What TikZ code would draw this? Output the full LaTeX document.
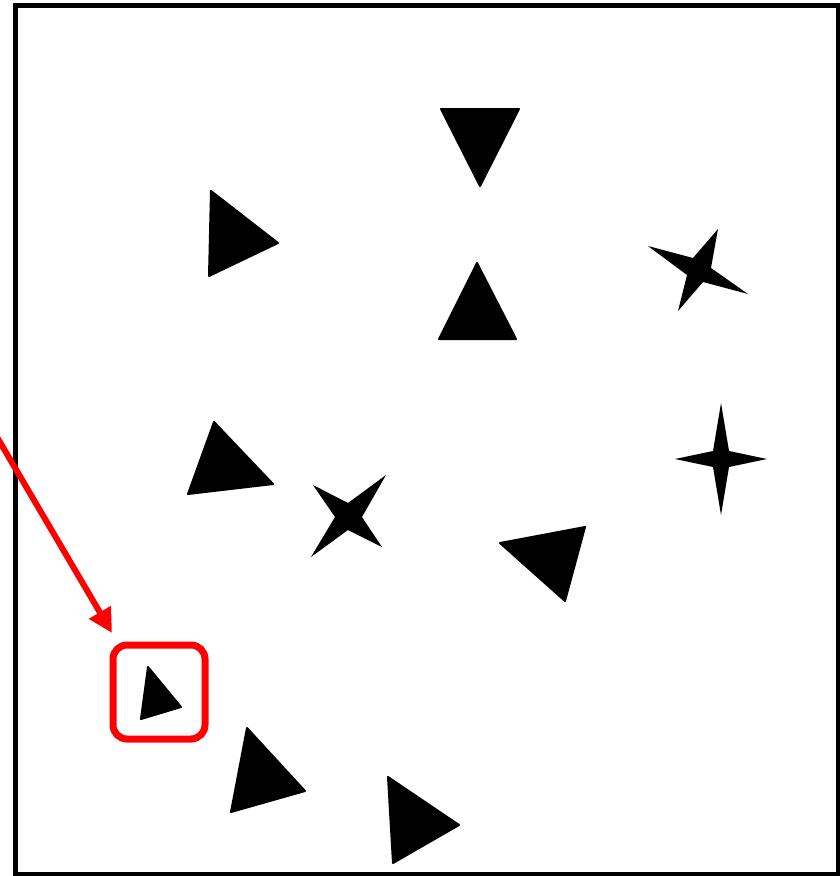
\documentclass[tikz,border=0pt]{standalone}
\usetikzlibrary{arrows.meta}
\tikzset{
  tri/.style={fill=black, draw=black, line width=2pt, line join=round},
  starshape/.style={fill=black, draw=none},
  frame/.style={draw=black, line width=5pt},
  hilite/.style={draw=red, line width=7pt, rounded corners=14pt, minimum width=92pt, minimum height=94pt, inner sep=0pt},
  pointer/.style={draw=red, line width=6pt, -{Triangle[length=24pt,width=24pt]}}
}
\begin{document}
\begin{tikzpicture}[x=1pt,y=-1pt]
\useasboundingbox (0,0) rectangle (840,876);
\draw[frame] (15.5,5.5) rectangle (838.5,874);
% triangles
\draw[tri] (441,109) -- (519,109) -- (480,186) -- cycle;
\draw[tri] (211,191) -- (278,243) -- (209,276) -- cycle;
\draw[tri] (477,263) -- (516,339) -- (439,339) -- cycle;
\draw[tri] (214,422) -- (273,484) -- (188,494) -- cycle;
\draw[tri] (500,543) -- (585,527) -- (565,601) -- cycle;
\draw[tri] (148,667) -- (181,707) -- (141,719) -- cycle;
\draw[tri] (247,728) -- (305,791) -- (231,812) -- cycle;
\draw[tri] (388,777) -- (459,825) -- (393,863) -- cycle;
% stars
\fill[starshape] (648,246) -- (693,258) -- (718,229) -- (711,268) -- (748,294) -- (703,282) -- (678,311) -- (687,275) -- cycle;
\fill[starshape] (721,403) -- (729,451) -- (767,459) -- (729,467) -- (721,515) -- (713,467) -- (675,459) -- (713,451) -- cycle;
\fill[starshape] (313,485) -- (348,503) -- (386,475) -- (362,517) -- (382,547) -- (348,530) -- (311,557) -- (335,517) -- cycle;
% highlight
\node[hilite] (box) at (159,692) {};
\coordinate (src) at (-6,432);
\coordinate (tip) at (112,633);
\draw[pointer] (src) -- (tip);
\end{tikzpicture}
\end{document}
